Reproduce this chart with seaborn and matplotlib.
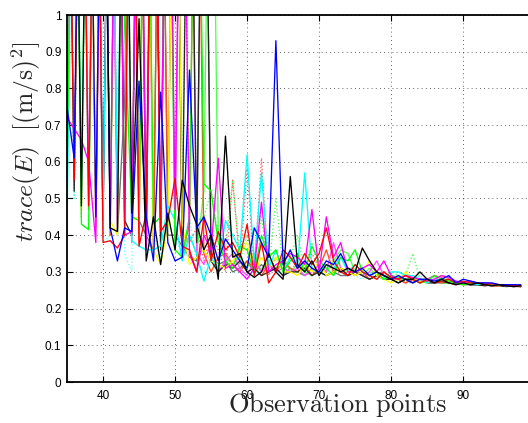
import numpy as np
import pandas as pd
import matplotlib
matplotlib.use("Agg")
import matplotlib.pyplot as plt
import seaborn as sns

# ---------------- data (x = 35 .. 98) ----------------
obs = list(range(35, 99))

blue = [0.75, 0.61, 2.0, 2.0, 0.45, 2.0, 0.42, 0.33,
        0.42, 0.41, 0.82, 0.45, 0.33, 0.79, 0.38, 0.33,
        0.34, 0.85, 0.42, 0.45, 0.40, 0.33, 0.39, 0.36,
        0.33, 0.31, 0.42, 0.38, 0.34, 0.93, 0.32, 0.36,
        0.31, 0.33, 0.31, 0.30, 0.33, 0.32, 0.35, 0.31,
        0.30, 0.31, 0.29, 0.30, 0.29, 0.28, 0.29, 0.28,
        0.27, 0.28, 0.28, 0.275, 0.28, 0.29, 0.27, 0.28,
        0.275, 0.27, 0.27, 0.27, 0.265, 0.265, 0.265, 0.265]

green = [0.55, 2.0, 0.43, 0.415, 2.0, 2.0, 0.45, 2.0,
         0.97, 0.45, 0.44, 2.0, 0.43, 0.45, 2.0, 0.36,
         0.34, 0.45, 2.0, 0.54, 0.52, 0.38, 0.33, 0.31,
         0.37, 0.36, 0.30, 0.40, 0.34, 0.36, 0.30, 0.33,
         0.35, 0.30, 0.37, 0.33, 0.31, 0.29, 0.34, 0.33,
         0.36, 0.30, 0.29, 0.30, 0.28, 0.29, 0.285, 0.28,
         0.28, 0.27, 0.275, 0.29, 0.28, 0.275, 0.27, 0.265,
         0.27, 0.27, 0.268, 0.265, 0.265, 0.265, 0.262, 0.262]

red = [2.0, 0.55, 2.0, 0.48, 2.0, 0.38, 0.385, 0.365,
       0.40, 2.0, 0.37, 0.46, 2.0, 0.41, 0.44, 0.555,
       0.37, 0.36, 0.30, 0.45, 0.33, 0.41, 0.36, 0.38,
       0.34, 0.43, 0.29, 0.38, 0.27, 0.30, 0.36, 0.34,
       0.31, 0.35, 0.32, 0.35, 0.42, 0.33, 0.30, 0.29,
       0.32, 0.30, 0.29, 0.28, 0.30, 0.285, 0.28, 0.29,
       0.28, 0.27, 0.28, 0.27, 0.275, 0.28, 0.27, 0.275,
       0.27, 0.27, 0.265, 0.268, 0.265, 0.265, 0.262, 0.262]

cyan = [0.40, 2.0, 0.50, 2.0, 2.0, 0.42, 2.0, 0.50,
        2.0, 0.385, 0.37, 0.36, 0.36, 0.37, 0.48, 0.44,
        0.33, 0.40, 0.35, 0.275, 0.34, 0.31, 0.44, 0.40,
        0.36, 0.62, 0.32, 0.57, 0.31, 0.36, 0.30, 0.34,
        0.31, 0.57, 0.31, 0.30, 0.32, 0.31, 0.34, 0.30,
        0.32, 0.30, 0.29, 0.30, 0.28, 0.30, 0.30, 0.29,
        0.29, 0.28, 0.27, 0.28, 0.275, 0.28, 0.27, 0.27,
        0.27, 0.265, 0.27, 0.265, 0.265, 0.262, 0.262, 0.262]

magenta = [0.72, 0.69, 0.66, 0.60, 0.38, 2.0, 0.44, 2.0,
           0.40, 0.41, 2.0, 0.36, 2.0, 0.42, 2.0, 0.47,
           2.0, 0.35, 0.30, 0.40, 0.36, 0.61, 0.31, 0.32,
           0.30, 0.28, 0.31, 0.49, 0.30, 0.32, 0.33, 0.35,
           0.34, 0.32, 0.47, 0.30, 0.45, 0.34, 0.38, 0.30,
           0.30, 0.31, 0.32, 0.30, 0.33, 0.29, 0.28, 0.29,
           0.285, 0.28, 0.275, 0.28, 0.29, 0.285, 0.275, 0.27,
           0.275, 0.27, 0.27, 0.268, 0.265, 0.262, 0.265, 0.262]

yellow = [2.0, 2.0, 0.47, 2.0, 0.50, 2.0, 0.44, 0.40,
          2.0, 0.44, 0.45, 2.0, 0.36, 0.32, 0.42, 2.0,
          0.43, 0.32, 0.34, 0.36, 0.33, 0.32, 0.31, 0.33,
          0.35, 0.38, 0.30, 0.34, 0.31, 0.34, 0.30, 0.30,
          0.29, 0.32, 0.30, 0.33, 0.29, 0.30, 0.31, 0.30,
          0.29, 0.30, 0.33, 0.29, 0.28, 0.27, 0.28, 0.30,
          0.28, 0.275, 0.27, 0.28, 0.29, 0.275, 0.27, 0.265,
          0.27, 0.27, 0.265, 0.265, 0.262, 0.265, 0.262, 0.262]

black = [2.0, 2.0, 0.48, 2.0, 2.0, 2.0, 0.42, 0.41,
         2.0, 0.46, 0.99, 0.33, 0.45, 0.32, 0.46, 0.36,
         0.55, 0.48, 0.43, 0.36, 0.40, 0.28, 0.67, 0.34,
         0.35, 0.30, 0.285, 0.30, 0.35, 0.30, 0.28, 0.56,
         0.32, 0.30, 0.33, 0.29, 0.32, 0.31, 0.30, 0.31,
         0.30, 0.365, 0.33, 0.30, 0.29, 0.28, 0.27, 0.28,
         0.28, 0.30, 0.28, 0.27, 0.28, 0.27, 0.265, 0.27,
         0.265, 0.27, 0.265, 0.262, 0.265, 0.262, 0.26, 0.262]

gray = [0.55, 2.0, 2.0, 0.47, 2.0, 0.44, 2.0, 0.40,
        0.76, 2.0, 0.44, 0.40, 0.36, 2.0, 0.40, 0.40,
        0.37, 0.34, 0.33, 2.0, 0.35, 0.32, 0.33, 0.30,
        0.31, 0.33, 0.30, 0.32, 0.30, 0.31, 0.29, 0.31,
        0.30, 0.29, 0.31, 0.30, 0.29, 0.30, 0.29, 0.29,
        0.30, 0.29, 0.28, 0.29, 0.28, 0.28, 0.28, 0.27,
        0.28, 0.27, 0.275, 0.27, 0.27, 0.27, 0.268, 0.265,
        0.265, 0.265, 0.265, 0.262, 0.262, 0.262, 0.26, 0.262]

magenta2 = [0.70, 2.0, 2.0, 0.55, 2.0, 0.45, 2.0, 0.42,
            2.0, 0.38, 2.0, 0.44, 2.0, 0.40, 2.0, 0.38,
            2.0, 2.0, 0.35, 0.32, 0.38, 0.30, 0.33, 0.35,
            0.31, 0.29, 0.33, 0.30, 0.32, 0.30, 0.31, 0.30,
            0.31, 0.29, 0.30, 0.32, 0.30, 0.38, 0.31, 0.29,
            0.30, 0.29, 0.30, 0.33, 0.29, 0.28, 0.28, 0.29,
            0.28, 0.27, 0.28, 0.29, 0.285, 0.28, 0.27, 0.27,
            0.27, 0.27, 0.265, 0.265, 0.262, 0.265, 0.262, 0.26]

green2 = [2.0, 2.0, 0.52, 2.0, 0.46, 2.0, 0.40, 2.0,
          0.50, 2.0, 0.45, 2.0, 2.0, 0.38, 0.42, 2.0,
          0.36, 0.40, 0.35, 0.52, 2.0, 0.40, 0.34, 0.32,
          0.34, 0.31, 0.35, 0.30, 0.33, 0.31, 0.34, 0.30,
          0.32, 0.30, 0.29, 0.31, 0.30, 0.33, 0.36, 0.35,
          0.30, 0.29, 0.31, 0.29, 0.28, 0.29, 0.28, 0.28,
          0.27, 0.28, 0.28, 0.29, 0.27, 0.27, 0.275, 0.27,
          0.265, 0.27, 0.265, 0.262, 0.265, 0.262, 0.262, 0.26]

red2 = [0.60, 2.0, 2.0, 2.0, 0.42, 2.0, 0.40, 2.0,
        0.44, 2.0, 0.38, 2.0, 0.36, 2.0, 0.46, 2.0,
        0.35, 0.43, 2.0, 0.35, 0.30, 0.34, 0.35, 0.32,
        0.30, 0.33, 0.31, 0.29, 0.32, 0.30, 0.33, 0.31,
        0.30, 0.32, 0.29, 0.31, 0.36, 0.30, 0.31, 0.30,
        0.29, 0.30, 0.28, 0.29, 0.30, 0.28, 0.28, 0.27,
        0.28, 0.275, 0.27, 0.28, 0.27, 0.275, 0.27, 0.268,
        0.27, 0.265, 0.265, 0.262, 0.262, 0.262, 0.26, 0.26]

black2 = [2.0, 0.52, 2.0, 2.0, 2.0, 0.44, 2.0, 2.0,
          0.44, 0.40, 2.0, 0.37, 2.0, 0.36, 2.0, 2.0,
          0.40, 2.0, 0.38, 2.0, 0.33, 0.30, 0.32, 0.31,
          0.33, 0.30, 0.31, 0.29, 0.30, 0.31, 0.29, 0.30,
          0.30, 0.31, 0.29, 0.30, 0.29, 0.30, 0.31, 0.29,
          0.30, 0.29, 0.28, 0.29, 0.28, 0.28, 0.27, 0.28,
          0.27, 0.28, 0.27, 0.27, 0.275, 0.27, 0.268, 0.27,
          0.265, 0.265, 0.262, 0.265, 0.262, 0.26, 0.262, 0.26]

green_dot = [2.0, 0.50, 2.0, 2.0, 0.45, 2.0, 2.0, 0.48,
             2.0, 2.0, 0.50, 2.0, 0.42, 2.0, 0.45, 2.0,
             0.50, 2.0, 0.44, 0.45, 0.52, 0.40, 0.36, 0.55,
             0.33, 0.40, 0.32, 0.45, 0.30, 0.50, 0.31, 0.34,
             0.40, 0.31, 0.38, 0.30, 0.33, 0.30, 0.35, 0.30,
             0.32, 0.30, 0.29, 0.30, 0.28, 0.30, 0.29, 0.29,
             0.35, 0.28, 0.27, 0.28, 0.27, 0.28, 0.27, 0.27,
             0.27, 0.265, 0.27, 0.265, 0.262, 0.265, 0.262, 0.262]

red_dot = [2.0, 2.0, 0.45, 2.0, 2.0, 0.40, 2.0, 0.45,
           2.0, 0.40, 2.0, 0.42, 2.0, 0.38, 2.0, 0.45,
           2.0, 0.38, 0.42, 0.33, 0.40, 0.36, 0.30, 0.55,
           0.32, 0.58, 0.30, 0.61, 0.29, 0.34, 0.31, 0.30,
           0.33, 0.30, 0.35, 0.31, 0.30, 0.32, 0.29, 0.30,
           0.31, 0.29, 0.30, 0.28, 0.29, 0.28, 0.28, 0.27,
           0.275, 0.28, 0.27, 0.28, 0.27, 0.27, 0.265, 0.27,
           0.265, 0.268, 0.265, 0.262, 0.265, 0.262, 0.262, 0.26]

cyan_dot = [2.0, 0.50, 2.0, 0.42, 2.0, 0.38, 0.40, 2.0,
            0.35, 0.30, 2.0, 0.34, 0.40, 0.33, 2.0, 0.38,
            0.36, 0.45, 0.32, 0.30, 0.36, 0.31, 0.34, 0.30,
            0.30, 0.33, 0.29, 0.31, 0.32, 0.30, 0.29, 0.31,
            0.30, 0.29, 0.31, 0.29, 0.30, 0.29, 0.30, 0.29,
            0.29, 0.28, 0.30, 0.28, 0.29, 0.28, 0.27, 0.30,
            0.28, 0.29, 0.27, 0.275, 0.27, 0.28, 0.27, 0.268,
            0.27, 0.265, 0.268, 0.265, 0.262, 0.262, 0.26, 0.262]

x_ticks = [40, 50, 60, 70, 80, 90]
y_ticks = [0, 0.1, 0.2, 0.3, 0.4, 0.5, 0.6, 0.7, 0.8, 0.9, 1]
y_tick_labels = ["0", "0.1", "0.2", "0.3", "0.4", "0.5", "0.6", "0.7", "0.8", "0.9", "1"]

series = [
    ("green_dot", green_dot, (0.3, 1.0, 0.3), ":"),
    ("red_dot", red_dot, (1.0, 0.35, 0.35), ":"),
    ("cyan_dot", cyan_dot, (0.4, 1.0, 1.0), ":"),
    ("gray", gray, (0.45, 0.45, 0.45), "-"),
    ("green2", green2, (0.3, 1.0, 0.3), "-"),
    ("red2", red2, (1.0, 0.3, 0.1), "-"),
    ("magenta2", magenta2, (1.0, 0.3, 1.0), "-"),
    ("black2", black2, (0.15, 0.15, 0.15), "-"),
    ("yellow", yellow, (1.0, 1.0, 0.0), "-"),
    ("cyan", cyan, (0.0, 1.0, 1.0), "-"),
    ("green", green, (0.0, 1.0, 0.0), "-"),
    ("magenta", magenta, (1.0, 0.0, 1.0), "-"),
    ("red", red, (1.0, 0.0, 0.0), "-"),
    ("blue", blue, (0.0, 0.0, 1.0), "-"),
    ("black", black, (0.0, 0.0, 0.0), "-"),
]

# ---------------- plot ----------------
sns.set_style("white")
plt.rcParams["font.family"] = ["Liberation Sans", "DejaVu Sans"]
plt.rcParams["mathtext.fontset"] = "cm"

fig = plt.figure(figsize=(5.28, 4.23), dpi=100)
ax = fig.add_axes([67 / 528, 41 / 423, 461 / 528, 367 / 423])

for name, vals, col, ls in series:
    df = pd.DataFrame({"obs": obs, "val": vals})
    sns.lineplot(data=df, x="obs", y="val", ax=ax, color=col, linestyle=ls,
                 linewidth=0.95, legend=False)

ax.set_xlim(35, 99)
ax.set_ylim(0, 1)
ax.set_xticks(x_ticks)
ax.set_xticklabels([str(t) for t in x_ticks])
ax.set_yticks(y_ticks)
ax.set_yticklabels(y_tick_labels)
ax.tick_params(axis="both", direction="in", length=4, width=0.8, labelsize=8.5,
               colors="black", top=True, bottom=True, left=True, right=False)
ax.tick_params(axis="x", pad=6)
ax.tick_params(axis="y", pad=4)
ax.grid(True, color="black", linestyle=(0, (1, 4)), linewidth=0.6, alpha=0.8)

for side in ["left", "bottom", "top"]:
    ax.spines[side].set_visible(True)
    ax.spines[side].set_color("black")
    ax.spines[side].set_linewidth(1.3)
ax.spines["right"].set_visible(False)

ax.set_xlabel(r"$\mathrm{Observation\ points}$", fontsize=19)
ax.xaxis.set_label_coords((338 - 67) / 461, (382 - 391) / 367)
ax.set_ylabel(r"$trace(E)\ \ [(\mathrm{m/s})^2]$", fontsize=18.5)
ax.yaxis.set_label_coords((43 - 67) / 461, (382 - 142) / 367)

fig.savefig("out.png", dpi=100)
